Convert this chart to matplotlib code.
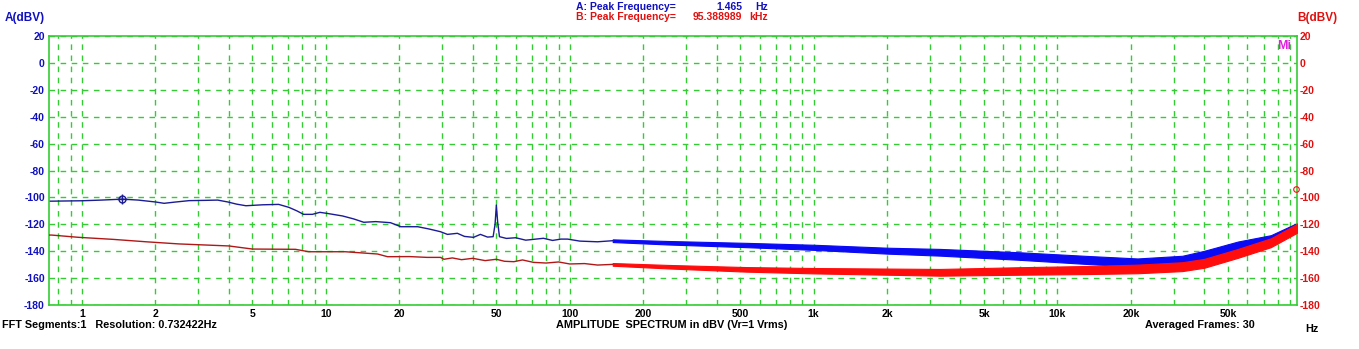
import matplotlib
matplotlib.use("Agg")
from matplotlib import pyplot as plt
from matplotlib.ticker import FixedLocator, NullFormatter

# channel A (blue) - thin trace at low frequency
a_freq = [0.73, 0.75, 1.0, 1.2, 1.465, 1.7, 2.0, 2.17, 2.4, 2.75, 3.2, 3.6, 3.96, 4.3, 4.7, 5.5, 6.4,
          7.05, 7.6, 8.1, 8.8, 9.45, 10.2, 11.7, 13.0, 14.3, 16.0, 18.4, 20.3, 23.8, 26.5, 29.5, 31.5,
          34.6, 37.0, 40.3, 43.0, 46.0, 48.5, 49.4, 50.0, 50.6, 51.5, 55.0, 60.0, 66.0, 71.0, 78.0,
          85.0, 92.0, 98.0, 110.0, 130.0, 150.0]
a_db = [-102.8, -102.8, -102.5, -102.0, -101.3, -102.0, -103.4, -104.4, -103.5, -102.4, -102.2,
        -102.0, -103.4, -105.0, -106.2, -105.5, -105.2, -107.4, -110.0, -112.6, -112.6, -111.1,
        -112.0, -113.8, -116.0, -118.5, -118.0, -118.8, -121.8, -121.8, -123.5, -125.5, -127.5,
        -126.7, -129.0, -129.7, -127.5, -129.5, -129.2, -120.0, -105.7, -118.0, -129.2, -130.5,
        -130.0, -131.8, -131.2, -130.4, -132.0, -131.0, -131.0, -132.5, -133.0, -132.2]

# channel A - noisy band at high frequency (centre and half width in dB)
a_band_freq = [150, 252, 530, 1000, 2000, 3300, 7000, 13200, 21300, 32500, 40000, 55000, 75000, 96000]
a_band_db = [-132.2, -133.7, -135.4, -137.1, -139.6, -140.8, -143.6, -146.5, -148.5, -146.5,
             -142.8, -135.9, -131.2, -122.2]
a_band_hw = [1.0, 1.3, 1.6, 1.9, 2.2, 2.5, 2.8, 3.0, 3.1, 3.1, 3.1, 3.1, 3.1, 3.1]

# channel B (red) - thin trace at low frequency
b_freq = [0.73, 0.75, 0.97, 1.34, 1.83, 2.5, 4.0, 5.0, 7.5, 8.5, 12.0, 16.3, 17.9, 22.0, 26.0,
          29.5, 30.5, 33.0, 36.0, 40.0, 45.0, 50.0, 54.0, 59.0, 64.0, 71.0, 80.0, 90.0, 100.0,
          115.0, 130.0, 150.0]
b_db = [-128.0, -128.0, -129.7, -131.2, -133.0, -134.6, -136.1, -138.4, -138.6, -140.4, -140.4,
        -142.1, -144.1, -144.0, -144.6, -144.6, -146.0, -145.0, -146.3, -145.3, -147.0, -146.0,
        -147.5, -147.8, -146.5, -148.3, -148.8, -148.0, -149.5, -149.2, -150.3, -149.8]

# channel B - noisy band at high frequency
b_band_freq = [150, 252, 530, 1000, 3300, 7000, 13200, 21300, 32500, 40000, 55000, 75000, 96000]
b_band_db = [-149.8, -151.5, -153.5, -154.5, -155.7, -154.7, -154.0, -153.2, -151.5, -149.0,
             -141.6, -133.7, -123.0]
b_band_hw = [1.0, 1.3, 1.7, 2.0, 2.5, 2.8, 3.0, 3.2, 3.3, 3.3, 3.3, 3.3, 3.3]

# peak markers
a_peak = (1.465, -101.3)
b_peak = (95388.989, -94.0)

tick_freqs = [1, 2, 5, 10, 20, 50, 100, 200, 500, 1000, 2000, 5000, 10000, 20000, 50000]
tick_labels = ['1', '2', '5', '10', '20', '50', '100', '200', '500', '1k', '2k', '5k', '10k', '20k', '50k']
y_ticks = list(range(-180, 21, 20))

W, H = 1359, 349
GREEN = '#33cc33'
A_LINE, A_BAND = '#1b1b96', '#0a0af5'
B_LINE, B_BAND = '#b01818', '#ff0d0d'

plt.rcParams['font.family'] = ['Liberation Sans', 'DejaVu Sans']
plt.rcParams['font.weight'] = 'bold'
plt.rcParams['axes.unicode_minus'] = False

fig = plt.figure(figsize=(W / 100, H / 100), dpi=100)
ax = fig.add_axes([49 / W, 1 - 305 / H, (1297 - 49) / W, (305 - 36) / H])

ax.set_xscale('log')
ax.set_xlim(0.732, 96000)
ax.set_ylim(-180, 20)

# minor grid at every 1..9 multiple
minors = []
for dec in [0.1, 1, 10, 100, 1000, 10000]:
    for m in range(1, 10):
        f = m * dec
        if 0.732 < f < 96000 and f not in tick_freqs:
            minors.append(f)
ax.xaxis.set_major_locator(FixedLocator(tick_freqs))
ax.set_xticklabels(tick_labels)
ax.xaxis.set_minor_locator(FixedLocator(minors))
ax.xaxis.set_minor_formatter(NullFormatter())
ax.set_yticks(y_ticks)
ax.set_axisbelow(True)
ax.grid(True, which='both', color=GREEN, linestyle=(0, (4, 4)), linewidth=1.0, zorder=0)
ax.tick_params(axis='both', which='both', length=0, labelsize=7.5)
ax.tick_params(axis='x', pad=3)
ax.tick_params(axis='y', pad=3, labelcolor='#1010c0')
for s in ax.spines.values():
    s.set_color(GREEN)
    s.set_linewidth(1.2)

ax.fill_between(a_band_freq, [c - h for c, h in zip(a_band_db, a_band_hw)],
                [c + h for c, h in zip(a_band_db, a_band_hw)], color=A_BAND, linewidth=0.8,
                edgecolor=A_BAND, zorder=2)
ax.plot(a_freq, a_db, color=A_LINE, linewidth=1.0, zorder=2)
ax.fill_between(b_band_freq, [c - h for c, h in zip(b_band_db, b_band_hw)],
                [c + h for c, h in zip(b_band_db, b_band_hw)], color=B_BAND, linewidth=0.8,
                edgecolor=B_BAND, zorder=3)
ax.plot(b_freq, b_db, color=B_LINE, linewidth=1.0, zorder=3)

ax.plot([a_peak[0]], [a_peak[1]], marker='o', markersize=5, markerfacecolor='none',
        markeredgecolor=A_LINE, markeredgewidth=1, zorder=4)
ax.plot([a_peak[0]], [a_peak[1]], marker='+', markersize=7, color=A_LINE, markeredgewidth=1, zorder=4)
ax.plot([b_peak[0]], [b_peak[1]], marker='o', markersize=4, markerfacecolor='none',
        markeredgecolor=B_BAND, markeredgewidth=0.8, clip_on=False, zorder=4)

ax2 = ax.twinx()
ax2.set_ylim(-180, 20)
ax2.set_yticks(y_ticks)
ax2.tick_params(axis='y', length=0, pad=2, labelsize=7.5, labelcolor='#e01010')
for s in ax2.spines.values():
    s.set_visible(False)

def px(x, y):
    return x / W, 1 - y / H

fs = 7.5
fig.text(*px(5, 18), 'A(dBV)', color='#1010c0', fontsize=8.5, va='center', ha='left')
fig.text(*px(1297, 18), 'B(dBV)', color='#e01010', fontsize=8.5, va='center', ha='left')
fig.text(*px(576, 6.5), 'A: Peak Frequency=', color='#1010c0', fontsize=fs, va='center')
fig.text(*px(742, 6.5), '1.465', color='#1010c0', fontsize=fs, va='center', ha='right')
fig.text(*px(755, 6.5), 'Hz', color='#1010c0', fontsize=fs, va='center')
fig.text(*px(576, 17), 'B: Peak Frequency=', color='#e01010', fontsize=fs, va='center')
fig.text(*px(742, 17), '95.388989', color='#e01010', fontsize=fs, va='center', ha='right')
fig.text(*px(749, 17), 'kHz', color='#e01010', fontsize=fs, va='center')
fig.text(*px(1277, 46), 'Mi', color='#dd22dd', fontsize=9, va='center', ha='left')

fs2 = 7.8
fig.text(*px(2, 325), 'FFT Segments:1   Resolution: 0.732422Hz', color='black', fontsize=fs2, va='center')
fig.text(*px(672, 325), 'AMPLITUDE  SPECTRUM in dBV (Vr=1 Vrms)', color='black', fontsize=fs2,
         va='center', ha='center')
fig.text(*px(1145, 325), 'Averaged Frames: 30', color='black', fontsize=fs2, va='center')
fig.text(*px(1305, 329), 'Hz', color='black', fontsize=fs2, va='center')

fig.savefig('out.png', dpi=100, facecolor='white')
